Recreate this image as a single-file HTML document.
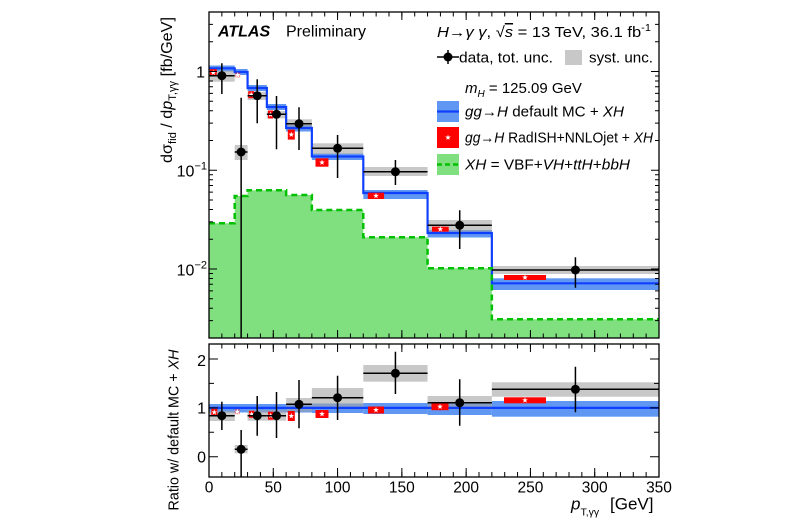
<!DOCTYPE html>
<html><head><meta charset="utf-8"><style>
html,body{margin:0;padding:0;background:#fff;}
svg{display:block;}
text{font-family:"Liberation Sans",Arial,sans-serif;fill:#000;}
</style></head><body>
<svg width="800" height="530" viewBox="0 0 800 530" xmlns="http://www.w3.org/2000/svg">
<defs>
<path id="st" d="M0,-3 L0.705,-0.971 L2.853,-0.927 L1.141,0.371 L1.763,2.427 L0,1.2 L-1.763,2.427 L-1.141,0.371 L-2.853,-0.927 L-0.705,-0.971 Z" fill="#fff"/>
<clipPath id="c1"><rect x="209" y="12" width="450" height="326"/></clipPath>
<clipPath id="c2"><rect x="209" y="344" width="450" height="133"/></clipPath>
</defs>
<rect width="800" height="530" fill="#fff"/>

<!-- ================= TOP PANEL ================= -->
<g clip-path="url(#c1)">
  <path d="M209,338 V223.3 H234.71 V196 H247.57 V190.3 H286.14 V195 H311.86 V210 H363.29 V237.3 H427.57 V268.3 H491.86 V319.3 H659 V338 Z" fill="#80e080"/>
  <!-- blue bands -->
  <g fill="#5f97f3">
    <rect x="209" y="65.5" width="25.71" height="6"/>
    <rect x="234.71" y="69" width="12.86" height="6"/>
    <rect x="247.57" y="85" width="19.29" height="6"/>
    <rect x="266.86" y="104" width="19.28" height="6"/>
    <rect x="286.14" y="125" width="25.72" height="6.5"/>
    <rect x="311.86" y="153.5" width="51.43" height="6.5"/>
    <rect x="363.29" y="190" width="64.28" height="9"/>
    <rect x="427.57" y="230" width="64.29" height="7.5"/>
    <rect x="491.86" y="278.3" width="167.14" height="11.7"/>
  </g>
  <!-- syst boxes -->
  <g fill="#a3a3a3" fill-opacity="0.6">
    <rect x="209" y="70.7" width="25.71" height="11"/>
    <rect x="234.71" y="145" width="12.86" height="15"/>
    <rect x="247.57" y="91.7" width="19.29" height="8.3"/>
    <rect x="266.86" y="111" width="19.28" height="7.3"/>
    <rect x="286.14" y="119.3" width="25.72" height="10"/>
    <rect x="311.86" y="143.3" width="51.43" height="10.7"/>
    <rect x="363.29" y="167" width="64.28" height="9"/>
    <rect x="427.57" y="220" width="64.29" height="11.7"/>
    <rect x="491.86" y="266" width="167.14" height="8"/>
  </g>
  <!-- blue line -->
  <path d="M209,68.3 H234.71 V72 H247.57 V88 H266.86 V107 H286.14 V128 H311.86 V156.5 H363.29 V193 H427.57 V233 H491.86 V283.3 H659" fill="none" stroke="#1040ff" stroke-width="2.2"/>
  <!-- green dashed -->
  <path d="M209,223.3 H234.71 V196 H247.57 V190.3 H286.14 V195 H311.86 V210 H363.29 V237.3 H427.57 V268.3 H491.86 V319.3 H659" fill="none" stroke="#00c000" stroke-width="2.5" stroke-dasharray="6,4"/>
  <!-- red boxes -->
  <g fill="#ff0000">
    <rect x="209.8" y="69.2" width="7" height="7"/>
    <rect x="235.2" y="72.5" width="5" height="5" fill-opacity="0.45"/>
    <rect x="248.2" y="91.2" width="6" height="7"/>
    <rect x="268" y="110.5" width="5" height="8"/>
    <rect x="287.8" y="129.6" width="7" height="10"/>
    <rect x="315.5" y="158.3" width="13" height="8.4"/>
    <rect x="367.8" y="192.7" width="16.3" height="6.3"/>
    <rect x="432" y="226.7" width="16.7" height="5"/>
    <rect x="504" y="275" width="42" height="5"/>
  </g>
  <use href="#st" x="213.3" y="72.7"/>
  <use href="#st" x="237.7" y="75"/>
  <use href="#st" x="251.2" y="94.7"/>
  <use href="#st" x="270.5" y="114.5"/>
  <use href="#st" x="291.3" y="134.6"/>
  <use href="#st" x="322" y="162.5"/>
  <use href="#st" x="376" y="195.8"/>
  <use href="#st" x="440.3" y="229.2"/>
  <use href="#st" x="525" y="277.5"/>
  <!-- data -->
  <g stroke="#000" stroke-width="1.5" fill="none">
    <path d="M209,75.7H234.71 M221.86,63.3V94"/>
    <path d="M234.71,152H247.57 M241.14,97.7V338"/>
    <path d="M247.57,95.7H266.86 M257.21,79.3V123.3"/>
    <path d="M266.86,114.3H286.14 M276.5,96V149.3"/>
    <path d="M286.14,123.7H311.86 M299,107.3V150"/>
    <path d="M311.86,148.3H363.29 M337.57,135V178"/>
    <path d="M363.29,171.7H427.57 M395.43,160V185"/>
    <path d="M427.57,225.3H491.86 M459.71,210.3V249"/>
    <path d="M491.86,270H659 M575.43,257.3V287.7"/>
  </g>
  <g fill="#000">
    <circle cx="221.86" cy="75.7" r="4.5"/>
    <circle cx="241.14" cy="152" r="4.5"/>
    <circle cx="257.21" cy="95.7" r="4.5"/>
    <circle cx="276.5" cy="114.3" r="4.5"/>
    <circle cx="299" cy="123.7" r="4.5"/>
    <circle cx="337.57" cy="148.3" r="4.5"/>
    <circle cx="395.43" cy="171.7" r="4.5"/>
    <circle cx="459.71" cy="225.3" r="4.5"/>
    <circle cx="575.43" cy="270" r="4.5"/>
  </g>
</g>
<!-- top ticks -->
<g stroke="#000" fill="none">
  <line x1="208.5" y1="335.75" x2="659.5" y2="335.75" stroke-width="4.5" stroke-dasharray="1 11.857"/>
  <line x1="208.5" y1="334" x2="659.5" y2="334" stroke-width="8" stroke-dasharray="1 63.286"/>
  <line x1="208.5" y1="14.25" x2="659.5" y2="14.25" stroke-width="4.5" stroke-dasharray="1 11.857"/>
  <line x1="208.5" y1="16" x2="659.5" y2="16" stroke-width="8" stroke-dasharray="1 63.286"/>
  <path stroke-width="1" d="M209,24.34h4M209,41.73h4M209,75.98h4M209,81.03h4M209,86.76h4M209,93.37h4M209,101.19h4M209,110.76h4M209,123.1h4M209,140.49h4M209,174.74h4M209,179.79h4M209,185.52h4M209,192.13h4M209,199.95h4M209,209.52h4M209,221.86h4M209,239.25h4M209,273.5h4M209,278.55h4M209,284.28h4M209,290.89h4M209,298.71h4M209,308.28h4M209,320.62h4M209,71.46h8M209,170.22h8M209,268.98h8"/>
  <path stroke-width="1" d="M659,24.34h-4M659,41.73h-4M659,75.98h-4M659,81.03h-4M659,86.76h-4M659,93.37h-4M659,101.19h-4M659,110.76h-4M659,123.1h-4M659,140.49h-4M659,174.74h-4M659,179.79h-4M659,185.52h-4M659,192.13h-4M659,199.95h-4M659,209.52h-4M659,221.86h-4M659,239.25h-4M659,273.5h-4M659,278.55h-4M659,284.28h-4M659,290.89h-4M659,298.71h-4M659,308.28h-4M659,320.62h-4M659,71.46h-8M659,170.22h-8M659,268.98h-8"/>
  <rect x="209" y="12" width="450" height="326" stroke-width="1.3"/>
</g>

<!-- ================= RATIO PANEL ================= -->
<g clip-path="url(#c2)">
  <g fill="#5f97f3">
    <rect x="209" y="404" width="102.86" height="8.5"/>
    <rect x="311.86" y="403.5" width="51.43" height="9.5"/>
    <rect x="363.29" y="403" width="64.28" height="11"/>
    <rect x="427.57" y="402.3" width="64.29" height="12.7"/>
    <rect x="491.86" y="401" width="167.14" height="15.7"/>
  </g>
  <g fill="#a3a3a3" fill-opacity="0.6">
    <rect x="209" y="410.7" width="25.71" height="10.3"/>
    <rect x="234.71" y="445" width="12.86" height="8.3"/>
    <rect x="247.57" y="410" width="19.29" height="10.7"/>
    <rect x="266.86" y="410" width="19.28" height="10.7"/>
    <rect x="286.14" y="398" width="25.72" height="13.7"/>
    <rect x="311.86" y="388" width="51.43" height="20"/>
    <rect x="363.29" y="365" width="64.28" height="16.7"/>
    <rect x="427.57" y="396" width="64.29" height="13.3"/>
    <rect x="491.86" y="382.3" width="167.14" height="14.4"/>
  </g>
  <line x1="209" y1="407.85" x2="659" y2="407.85" stroke="#1040ff" stroke-width="2.2"/>
  <g fill="#ff0000">
    <rect x="211.3" y="408.8" width="6" height="7"/>
    <rect x="234.8" y="409.2" width="5" height="5" fill-opacity="0.45"/>
    <rect x="248.95" y="410.8" width="5.5" height="7"/>
    <rect x="267.95" y="411.7" width="5.5" height="8"/>
    <rect x="287.8" y="411" width="7" height="10"/>
    <rect x="315.5" y="410" width="13" height="8"/>
    <rect x="368" y="406.5" width="16" height="7"/>
    <rect x="431.5" y="403.2" width="17" height="7"/>
    <rect x="504" y="397.3" width="42" height="6"/>
  </g>
  <use href="#st" x="214.3" y="412.3"/>
  <use href="#st" x="237.3" y="411.7"/>
  <use href="#st" x="251.7" y="414.3"/>
  <use href="#st" x="270.7" y="415.7"/>
  <use href="#st" x="291.3" y="416"/>
  <use href="#st" x="322" y="414"/>
  <use href="#st" x="376" y="410"/>
  <use href="#st" x="440" y="406.7"/>
  <use href="#st" x="525" y="400.3"/>
  <g stroke="#000" stroke-width="1.5" fill="none">
    <path d="M209,415.7H234.71 M221.86,401.7V430"/>
    <path d="M234.71,449.3H247.57 M241.14,430V477"/>
    <path d="M247.57,415.7H266.86 M257.21,396V435.7"/>
    <path d="M266.86,415.7H286.14 M276.5,392V438"/>
    <path d="M286.14,404.3H311.86 M299,380V428.3"/>
    <path d="M311.86,397.7H363.29 M337.57,375.7V420"/>
    <path d="M363.29,373.3H427.57 M395.43,351.7V394"/>
    <path d="M427.57,402.7H491.86 M459.71,379.3V425.7"/>
    <path d="M491.86,389.3H659 M575.43,366.7V412.3"/>
  </g>
  <g fill="#000">
    <circle cx="221.86" cy="415.7" r="4.5"/>
    <circle cx="241.14" cy="449.3" r="4.5"/>
    <circle cx="257.21" cy="415.7" r="4.5"/>
    <circle cx="276.5" cy="415.7" r="4.5"/>
    <circle cx="299" cy="404.3" r="4.5"/>
    <circle cx="337.57" cy="397.7" r="4.5"/>
    <circle cx="395.43" cy="373.3" r="4.5"/>
    <circle cx="459.71" cy="402.7" r="4.5"/>
    <circle cx="575.43" cy="389.3" r="4.5"/>
  </g>
</g>
<g stroke="#000" fill="none">
  <line x1="208.5" y1="474.5" x2="659.5" y2="474.5" stroke-width="5" stroke-dasharray="1 11.857"/>
  <line x1="208.5" y1="472.5" x2="659.5" y2="472.5" stroke-width="9" stroke-dasharray="1 63.286"/>
  <line x1="208.5" y1="346.25" x2="659.5" y2="346.25" stroke-width="4.5" stroke-dasharray="1 11.857"/>
  <line x1="208.5" y1="348" x2="659.5" y2="348" stroke-width="8" stroke-dasharray="1 63.286"/>
  <path stroke-width="1" d="M209,358.99h9M209,407.85h9M209,456.7h9M209,383.42h5M209,432.27h5M659,358.99h-9M659,407.85h-9M659,456.7h-9M659,383.42h-5M659,432.27h-5"/>
  <rect x="209" y="344" width="450" height="133" stroke-width="1.3"/>
</g>

<!-- ================= LABELS ================= -->
<g font-size="16">
  <text x="205" y="77.5" text-anchor="end">1</text>
  <text x="207" y="176.5" text-anchor="end">10<tspan dy="-7" font-size="11">−1</tspan></text>
  <text x="207" y="275.3" text-anchor="end">10<tspan dy="-7" font-size="11">−2</tspan></text>
  <text x="206" y="366" text-anchor="end">2</text>
  <text x="206" y="413.6" text-anchor="end">1</text>
  <text x="206" y="462.4" text-anchor="end">0</text>
</g>
<g font-size="15.5" text-anchor="middle">
  <text x="209" y="492.5">0</text>
  <text x="273.29" y="492.5">50</text>
  <text x="337.57" y="492.5">100</text>
  <text x="401.86" y="492.5">150</text>
  <text x="466.14" y="492.5">200</text>
  <text x="530.43" y="492.5">250</text>
  <text x="594.71" y="492.5">300</text>
  <text x="659" y="492.5">350</text>
</g>
<text x="571" y="509.5" font-size="17"><tspan font-style="italic">p</tspan><tspan dy="6" font-size="10.5">T,γγ</tspan></text>
<text x="610" y="509.5" font-size="17">[GeV]</text>

<text transform="translate(172,90) rotate(-90)" text-anchor="middle" font-size="16" textLength="146" lengthAdjust="spacingAndGlyphs">dσ<tspan dy="4" font-size="11">fid</tspan><tspan dy="-4"> / d</tspan><tspan font-style="italic">p</tspan><tspan dy="4" font-size="11">T,γγ</tspan><tspan dy="-4">  [fb/GeV]</tspan></text>
<text transform="translate(178.5,430) rotate(-90)" text-anchor="middle" font-size="14.3">Ratio w/ default MC + <tspan font-style="italic">XH</tspan></text>

<text x="218" y="36.5" font-size="16" font-weight="bold" font-style="italic">ATLAS</text>
<text x="286" y="36.5" font-size="16">Preliminary</text>

<text x="437" y="37" font-size="15" textLength="214" lengthAdjust="spacingAndGlyphs"><tspan font-style="italic">H</tspan>→<tspan font-style="italic">γ γ</tspan>, √<tspan font-style="italic" text-decoration="overline">s</tspan> = 13 TeV,  36.1 fb<tspan dy="-6" font-size="10">-1</tspan></text>

<!-- legend -->
<g stroke="#000" stroke-width="1.5"><path d="M437,57H459M448,50V64"/></g>
<circle cx="448" cy="57" r="4.5" fill="#000"/>
<text x="459" y="62.5" font-size="15" textLength="94" lengthAdjust="spacingAndGlyphs">data, tot. unc.</text>
<rect x="565" y="50" width="17" height="15" fill="#c8c8c8"/>
<text x="589" y="62.5" font-size="15" textLength="64" lengthAdjust="spacingAndGlyphs">syst. unc.</text>

<text x="465" y="93" font-size="15"><tspan font-style="italic">m</tspan><tspan dy="4" font-size="10" font-style="italic">H</tspan><tspan dy="-4"> = 125.09 GeV</tspan></text>

<rect x="437" y="101" width="22" height="21" fill="#5f97f3"/>
<line x1="437" y1="111.5" x2="459" y2="111.5" stroke="#1040ff" stroke-width="2.2"/>
<text x="465" y="116.5" font-size="15" textLength="159" lengthAdjust="spacingAndGlyphs"><tspan font-style="italic">gg</tspan>→<tspan font-style="italic">H</tspan> default MC + <tspan font-style="italic">XH</tspan></text>

<rect x="437" y="127" width="22" height="21" fill="#ff0000"/>
<use href="#st" x="448" y="137.5"/>
<text x="465" y="142.5" font-size="15" textLength="188" lengthAdjust="spacingAndGlyphs"><tspan font-style="italic">gg</tspan>→<tspan font-style="italic">H</tspan> RadISH+NNLOjet + <tspan font-style="italic">XH</tspan></text>

<rect x="437" y="154" width="22" height="21" fill="#80e080"/>
<line x1="437" y1="164.5" x2="459" y2="164.5" stroke="#00c000" stroke-width="2.5" stroke-dasharray="5,3"/>
<text x="465" y="169.5" font-size="15" textLength="165" lengthAdjust="spacingAndGlyphs"><tspan font-style="italic">XH</tspan> = VBF+<tspan font-style="italic">VH</tspan>+<tspan font-style="italic">ttH</tspan>+<tspan font-style="italic">bbH</tspan></text>
</svg>
</body></html>
